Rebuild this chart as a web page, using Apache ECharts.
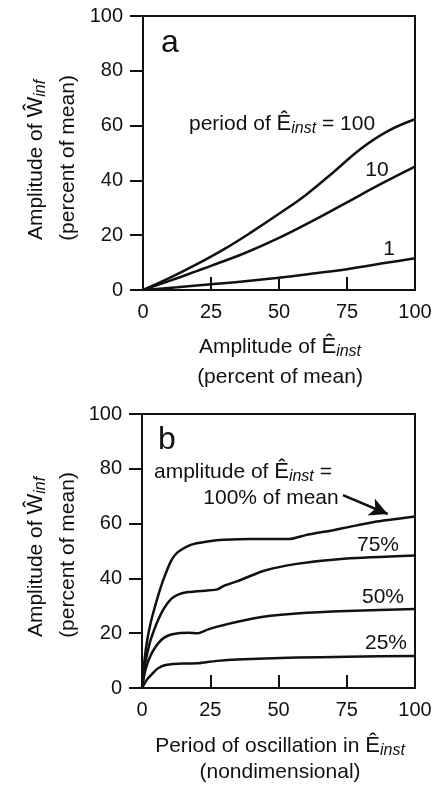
<!DOCTYPE html>
<html>
<head>
<meta charset="utf-8">
<script src="https://cdn.jsdelivr.net/npm/echarts@6/dist/echarts.min.js"></script>
<style>
  html, body { margin: 0; padding: 0; background: #fff; }
  #chart { width: 437px; height: 789px; }
</style>
</head>
<body>
<div id="chart"></div>
<script>
// panel a: amplitude of W_inf vs amplitude of E_inst, one curve per period
var periodLabels = ["100", "10", "1"];
var periodA100 = [[0, 0], [10, 4.5], [20, 9.5], [30, 15], [40, 21.2], [50, 27.8], [60, 34.8], [70, 43], [80, 51.5], [90, 58], [100, 62.3]];
var periodA10 = [[0, 0], [10, 3.4], [20, 7], [25, 8.8], [37.5, 13.5], [50, 19], [62.5, 25.3], [75, 32], [87.5, 38.7], [100, 45]];
var periodA1 = [[0, 0], [12.5, 1], [25, 2.1], [37.5, 3.2], [50, 4.5], [62.5, 6], [75, 7.6], [90, 10], [100, 11.6]];

// panel b: amplitude of W_inf vs period of oscillation, one curve per amplitude
var ampLabels = ["100%", "75%", "50%", "25%"];
var ampB100 = [[0, 0], [1, 11], [2, 18], [3, 23], [4, 27], [6, 34], [8, 40], [10.7, 46.5], [13, 49.5], [16.8, 51.8], [20, 52.8], [24, 53.5], [30, 54.1], [40, 54.4], [54, 54.4], [60, 55.8], [70, 57.6], [76, 58.8], [85, 60.6], [100, 62.6]];
var ampB75 = [[0, 0], [1, 8], [2, 13], [3, 17], [4, 20], [5.9, 24.8], [8, 29], [10.7, 32.5], [13, 34], [16.8, 35], [20, 35.3], [24, 35.6], [27.6, 36], [30, 37.3], [35, 39], [44.4, 42.7], [56.6, 45.3], [75, 47.3], [100, 48.4]];
var ampB50 = [[0, 0], [1, 5.5], [2, 9], [3, 11.5], [4, 13.5], [5.9, 16.3], [8, 18.3], [10.7, 19.5], [14, 20.1], [17, 20.2], [20.4, 20], [24, 21.3], [27.6, 22.4], [35, 24.2], [44.4, 26], [56.6, 27.2], [75, 28.1], [100, 28.8]];
var ampB25 = [[0, 0], [1, 1.8], [2, 3.3], [3.4, 4.8], [4.5, 6], [5.9, 7.2], [8, 8.2], [10.7, 8.7], [15, 8.9], [20.4, 9], [24, 9.5], [27.6, 9.9], [35, 10.4], [45, 10.8], [56.6, 11.1], [75, 11.4], [100, 11.7]];

// arrow pointing at the 100% curve (data coords)
var arrowFrom = [73.6, 70.4];
var arrowTo = [90, 63.5];

var INK = "#111";
var FONT = "Liberation Sans, Arial, sans-serif";

var myChart = echarts.init(document.getElementById("chart"));

function xAxisDef(gi) {
  return {
    gridIndex: gi, type: "value", min: 0, max: 100, interval: 25,
    axisLine: { show: true, lineStyle: { color: INK, width: 2 } },
    axisTick: { show: true, inside: true, length: 13, lineStyle: { color: INK, width: 2 } },
    axisLabel: { color: INK, fontSize: 20, fontFamily: FONT, margin: 12 },
    splitLine: { show: false }
  };
}
function yAxisDef(gi) {
  return {
    gridIndex: gi, type: "value", min: 0, max: 100, interval: 20,
    axisLine: { show: true, lineStyle: { color: INK, width: 2 } },
    axisTick: { show: true, inside: false, length: 13, lineStyle: { color: INK, width: 2 } },
    axisLabel: { color: INK, fontSize: 20, fontFamily: FONT, margin: 20 },
    splitLine: { show: false }
  };
}
function curve(name, data, xi, smooth, extra) {
  var s = {
    name: name, type: "line", xAxisIndex: xi, yAxisIndex: xi,
    data: data, symbol: "none", smooth: smooth,
    lineStyle: { color: INK, width: 2.5 }, silent: true
  };
  for (var k in extra) s[k] = extra[k];
  return s;
}

var rich = {
  t: { fontSize: 21, fontFamily: FONT, color: INK, lineHeight: 26 },
  e: { fontSize: 22, fontFamily: FONT, color: INK, lineHeight: 26 },
  s: { fontSize: 16, fontFamily: FONT, fontStyle: "italic", color: INK, lineHeight: 14, verticalAlign: "bottom" }
};
function txt(x, y, text, opts) {
  opts = opts || {};
  return {
    type: "text", x: x, y: y, rotation: opts.rot || 0,
    style: {
      text: text, rich: rich, font: (opts.size || 21) + "px " + FONT, fill: INK,
      align: opts.align || "center", verticalAlign: "middle"
    }
  };
}

var option = {
  animation: false,
  backgroundColor: "#fff",
  grid: [
    { left: 143, top: 16, width: 272, height: 274, show: true, borderColor: INK, borderWidth: 2 },
    { left: 142, top: 414, width: 273, height: 274, show: true, borderColor: INK, borderWidth: 2 }
  ],
  xAxis: [xAxisDef(0), xAxisDef(1)],
  yAxis: [yAxisDef(0), yAxisDef(1)],
  series: [
    curve(periodLabels[0], periodA100, 0, 0.4),
    curve(periodLabels[1], periodA10, 0, 0.4),
    curve(periodLabels[2], periodA1, 0, 0.4),
    curve(ampLabels[0], ampB100, 1, 0.2, {
      markLine: {
        silent: true, symbol: ["none", "arrow"], symbolSize: [14, 18],
        label: { show: false },
        lineStyle: { color: INK, width: 2.5, type: "solid" },
        data: [[{ coord: arrowFrom }, { coord: arrowTo }]]
      }
    }),
    curve(ampLabels[1], ampB75, 1, 0.2),
    curve(ampLabels[2], ampB50, 1, 0.2),
    curve(ampLabels[3], ampB25, 1, 0.2)
  ],
  graphic: [
    // panel a
    txt(170, 43, "a", { size: 32 }),
    txt(189, 124, "{t|period of }{e|Ê}{s|inst}{t| = 100}", { align: "left" }),
    txt(377, 170, "10"),
    txt(389, 249, "1"),
    txt(36, 160, "{t|Amplitude of }{e|Ŵ}{s|inf}", { rot: Math.PI / 2 }),
    txt(68, 158, "(percent of mean)", { rot: Math.PI / 2 }),
    txt(280, 347, "{t|Amplitude of }{e|Ê}{s|inst}"),
    txt(280, 377, "(percent of mean)"),
    // panel b
    txt(167, 440, "b", { size: 32 }),
    txt(154, 472, "{t|amplitude of }{e|Ê}{s|inst}{t| =}", { align: "left" }),
    txt(271, 498, "100% of mean"),
    txt(378, 545, "75%"),
    txt(383, 597, "50%"),
    txt(386, 643, "25%"),
    txt(36, 557, "{t|Amplitude of }{e|Ŵ}{s|inf}", { rot: Math.PI / 2 }),
    txt(68, 555, "(percent of mean)", { rot: Math.PI / 2 }),
    txt(280, 746, "{t|Period of oscillation in }{e|Ê}{s|inst}"),
    txt(280, 772, "(nondimensional)")
  ]
};

myChart.setOption(option);
</script>
</body>
</html>
